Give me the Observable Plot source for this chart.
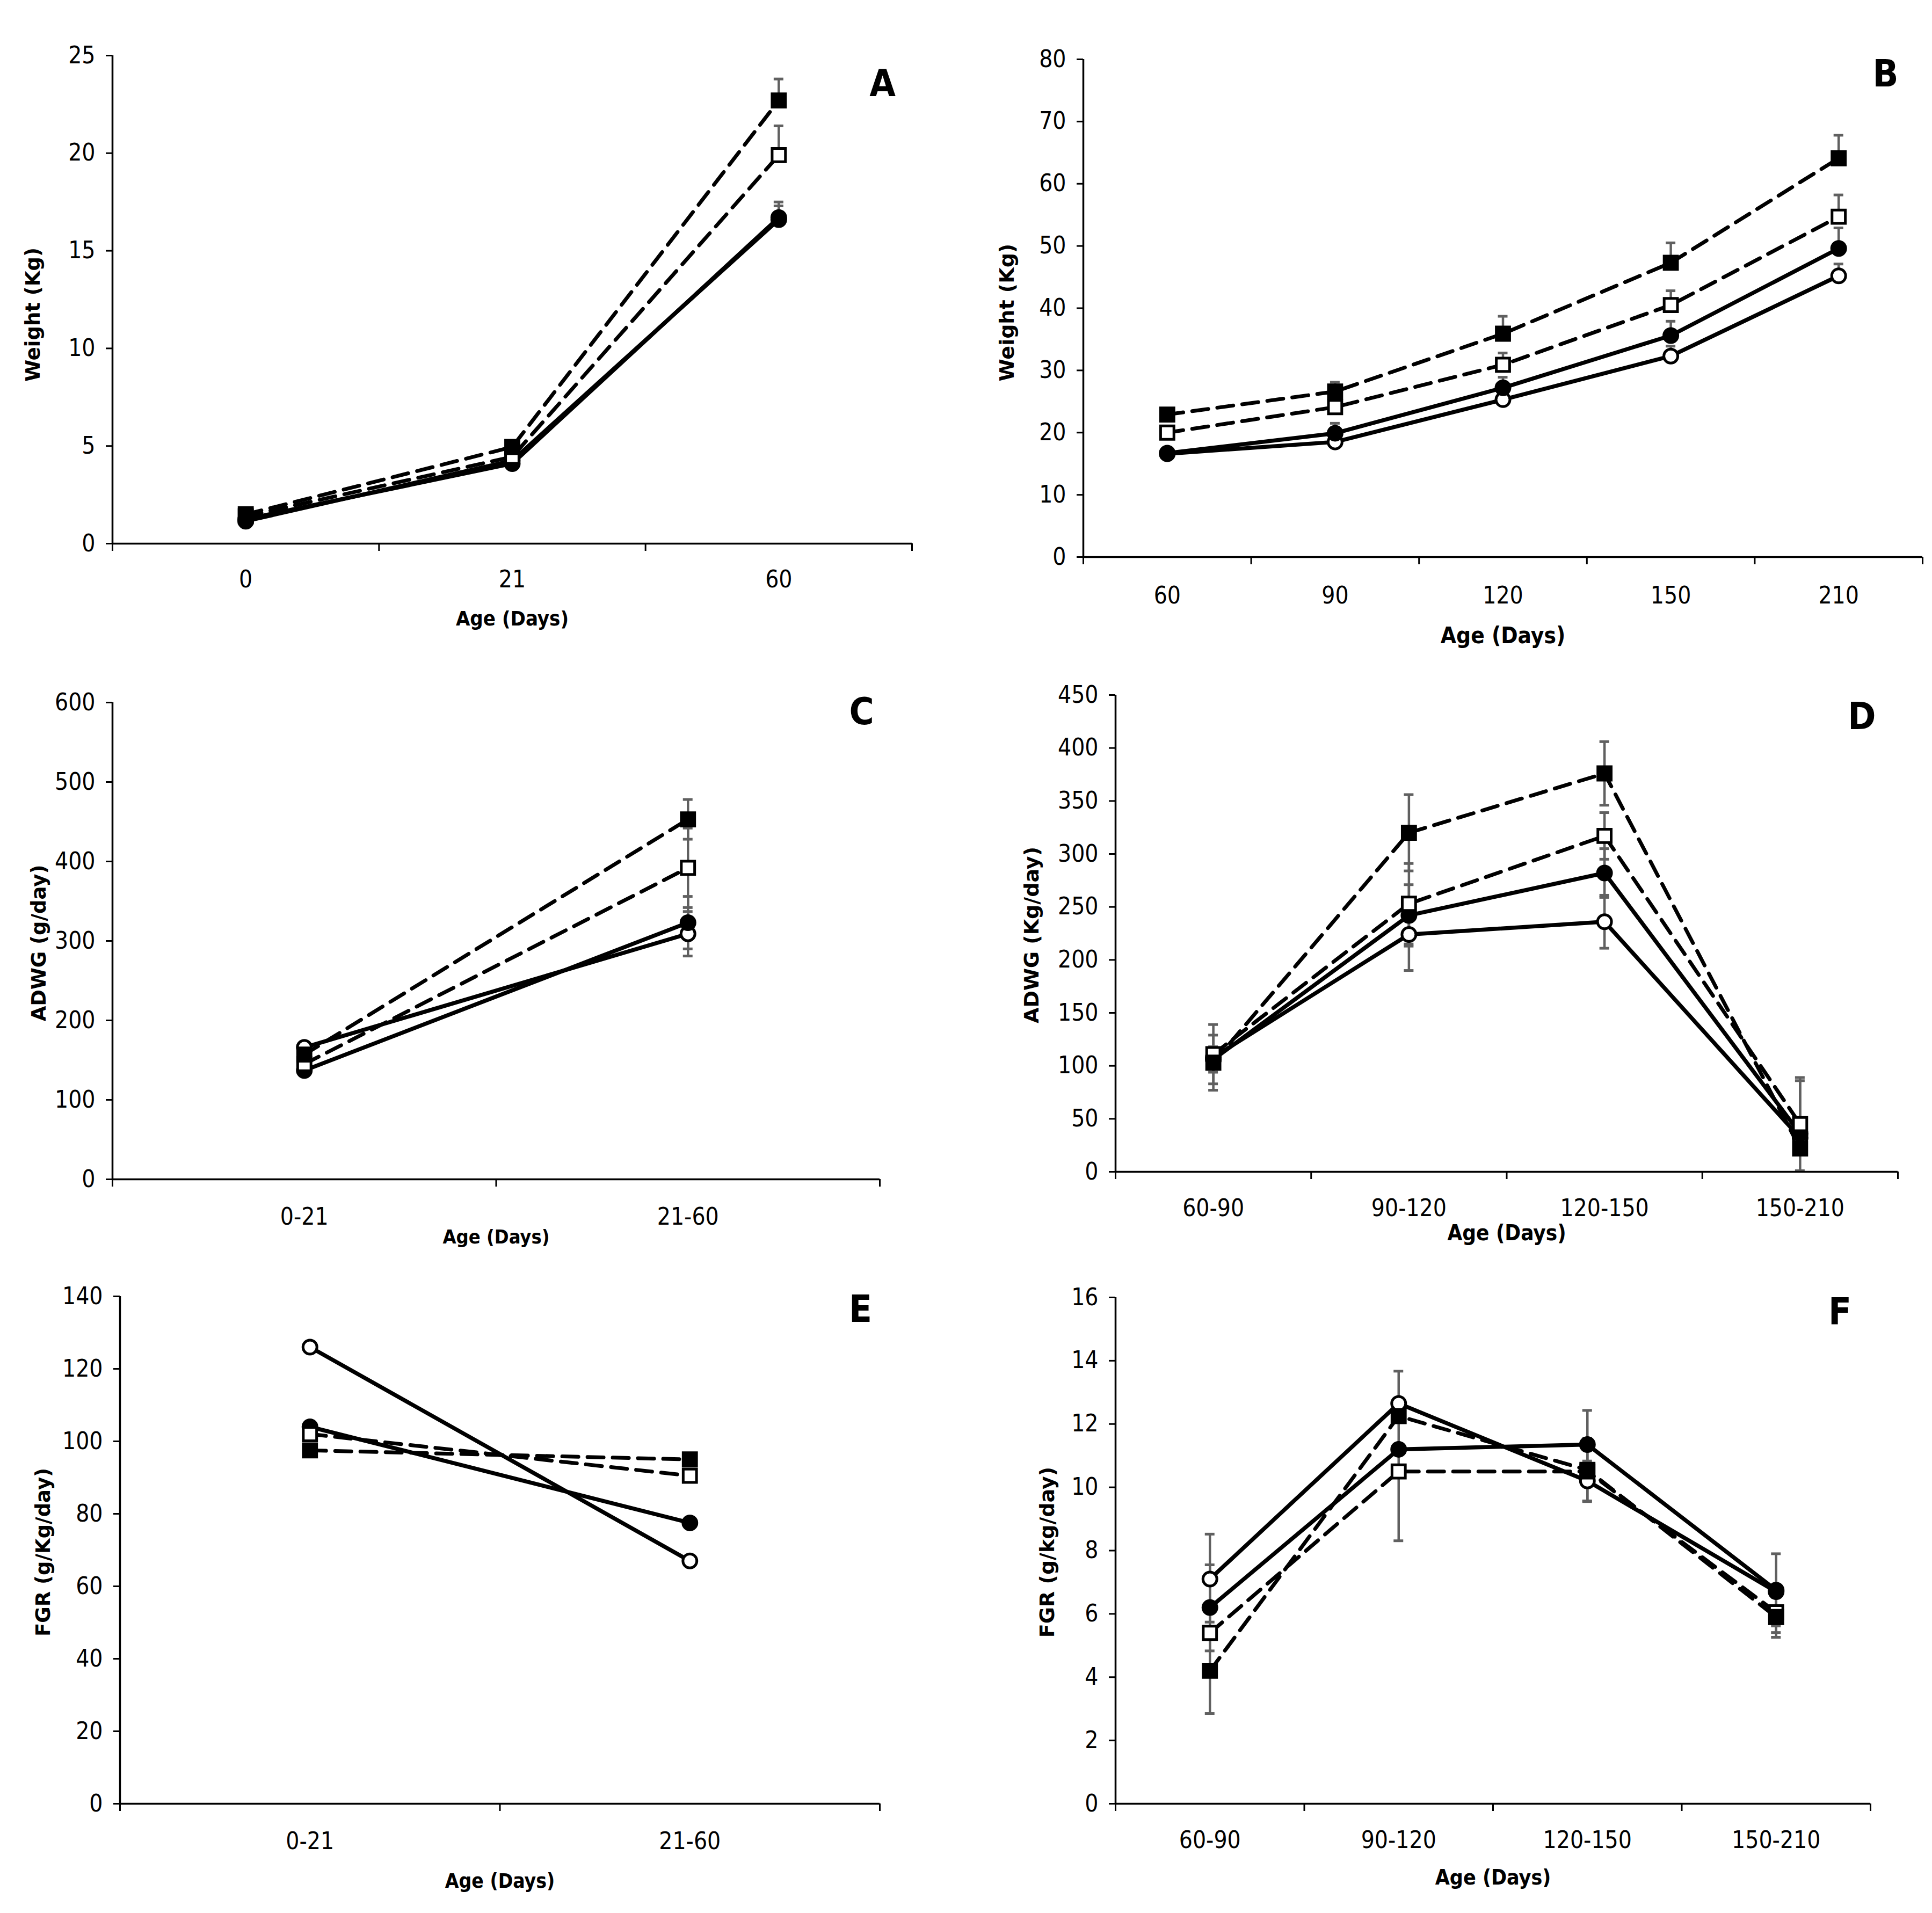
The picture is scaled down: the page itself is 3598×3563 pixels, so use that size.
<!DOCTYPE html>
<html><head><meta charset="utf-8">
<script src="https://cdn.jsdelivr.net/npm/d3@7"></script>
<script src="https://cdn.jsdelivr.net/npm/@observablehq/plot@0.6"></script>
<style>
html,body{margin:0;padding:0;background:#fff;}
#root{position:relative;width:3598px;height:3563px;background:#fff;overflow:hidden;}
.panel{position:absolute;}
.panel svg{overflow:visible;display:block;}
</style></head><body><div id="root"></div>
<script>
// Series (marker type): filled square / open square (dashed), filled circle / open circle (solid)
const seriesOrder = ["openCircle", "filledCircle", "openSquare", "filledSquare"];

// ---- Panel A: Weight (Kg), ages 0-60 d
const catsA = ["0", "21", "60"];
const A_filledSquare = [1.5, 4.95, 22.7];
const A_openSquare   = [1.4, 4.45, 19.9];
const A_filledCircle = [1.25, 4.1, 16.7];
const A_openCircle   = [1.15, 4.25, 16.6];
const A_hi_filledSquare = [null, null, 23.8];
const A_hi_openSquare   = [null, null, 21.4];
const A_hi_filledCircle = [null, null, 17.5];
const A_hi_openCircle   = [null, null, 17.3];
const ticksA = [0, 5, 10, 15, 20, 25];

// ---- Panel B: Weight (Kg), ages 60-210 d
const catsB = ["60", "90", "120", "150", "210"];
const B_filledSquare = [22.9, 26.6, 35.9, 47.3, 64.1];
const B_openSquare   = [20.0, 24.1, 30.9, 40.5, 54.7];
const B_filledCircle = [16.7, 19.9, 27.2, 35.6, 49.6];
const B_openCircle   = [16.6, 18.5, 25.3, 32.3, 45.2];
const B_hi_filledSquare = [null, 28.1, 38.7, 50.5, 67.8];
const B_hi_openSquare   = [null, null, 32.8, 42.8, 58.2];
const B_hi_filledCircle = [null, 21.5, 28.9, 37.9, 52.9];
const B_hi_openCircle   = [null, null, null, 33.9, 47.1];
const ticksB = [0, 10, 20, 30, 40, 50, 60, 70, 80];

// ---- Panel C: ADWG (g/day)
const catsC = ["0-21", "21-60"];
const C_filledSquare = [157, 453];
const C_openSquare   = [145, 392];
const C_filledCircle = [137, 323];
const C_openCircle   = [166, 309];
const C_lo_filledSquare = [null, 428], C_hi_filledSquare = [null, 478];
const C_lo_openSquare   = [null, 342], C_hi_openSquare   = [null, 442];
const C_lo_filledCircle = [null, 290], C_hi_filledCircle = [null, 356];
const C_lo_openCircle   = [null, 281], C_hi_openCircle   = [null, 337];
const ticksC = [0, 100, 200, 300, 400, 500, 600];

// ---- Panel D: ADWG (Kg/day)
const catsD = ["60-90", "90-120", "120-150", "150-210"];
const D_filledSquare = [103, 320, 376, 22];
const D_openSquare   = [111, 253, 317, 45];
const D_filledCircle = [106, 242, 282, 36];
const D_openCircle   = [108, 224, 236, 32];
const D_lo_filledSquare = [77, 284, 346, null], D_hi_filledSquare = [129, 356, 406, null];
const D_lo_openSquare   = [83, 215, 295, 1],    D_hi_openSquare   = [139, 291, 339, 89];
const D_lo_filledCircle = [94, 213, 259, null], D_hi_filledCircle = [118, 271, 305, 86];
const D_lo_openCircle   = [null, 190, 211, null], D_hi_openCircle = [null, 258, 261, null];
const ticksD = [0, 50, 100, 150, 200, 250, 300, 350, 400, 450];

// ---- Panel E: FGR (g/Kg/day)
const catsE = ["0-21", "21-60"];
const E_filledSquare = [97.5, 95];
const E_openSquare   = [102, 90.5];
const E_filledCircle = [104, 77.5];
const E_openCircle   = [126, 67];
const ticksE = [0, 20, 40, 60, 80, 100, 120, 140];

// ---- Panel F: FGR (g/kg/day)
const catsF = ["60-90", "90-120", "120-150", "150-210"];
const F_filledSquare = [4.2, 12.25, 10.55, 5.9];
const F_openSquare   = [5.4, 10.5, 10.5, 6.05];
const F_filledCircle = [6.2, 11.2, 11.35, 6.75];
const F_openCircle   = [7.1, 12.65, 10.2, 6.7];
const F_lo_filledSquare = [2.85, null, 9.55, 5.26], F_hi_filledSquare = [5.59, null, 11.55, 6.52];
const F_lo_openSquare   = [null, 8.31, null, 5.41], F_hi_openSquare   = [null, 12.69, null, 6.69];
const F_lo_filledCircle = [4.83, null, 10.31, 5.62], F_hi_filledCircle = [7.55, null, 12.43, 7.9];
const F_lo_openCircle   = [5.74, null, 9.57, null], F_hi_openCircle   = [8.52, 13.67, 10.83, null];
const ticksF = [0, 2, 4, 6, 8, 10, 12, 14, 16];

const xTitle = "Age (Days)";

// ---------- styling
const NARROW = "'Liberation Sans Narrow','DejaVu Sans Condensed','Arial Narrow',sans-serif";
const WIDE = "'DejaVu Sans',Verdana,sans-serif";
const INK = "#000", ERR = "#606060";
const DASHED = new Set(["filledSquare", "openSquare"]);
const SQUARES = new Set(["filledSquare", "openSquare"]);
const FILLED = new Set(["filledSquare", "filledCircle"]);

const panels = [
  {cats: catsA, vals: {filledSquare: A_filledSquare, openSquare: A_openSquare, filledCircle: A_filledCircle, openCircle: A_openCircle},
   lo: {}, hi: {filledSquare: A_hi_filledSquare, openSquare: A_hi_openSquare, filledCircle: A_hi_filledCircle, openCircle: A_hi_openCircle},
   ticks: ticksA, yLabel: "Weight (Kg)", letter: "A",
   left: 0, top: 0, w: 1799, h: 1240, mL: 209, mT: 103, mR: 101, mB: 228,
   tickPad: 50, titleDy: 140, titleSize: 38, yLabelDx: 147, yLabelDy: 28, yLabelSize: 37, letterDx: -55, letterDy: 53},
  {cats: catsB, vals: {filledSquare: B_filledSquare, openSquare: B_openSquare, filledCircle: B_filledCircle, openCircle: B_openCircle},
   lo: {}, hi: {filledSquare: B_hi_filledSquare, openSquare: B_hi_openSquare, filledCircle: B_hi_filledCircle, openCircle: B_hi_openCircle},
   ticks: ticksB, yLabel: "Weight (Kg)", letter: "B",
   left: 1799, top: 0, w: 1799, h: 1240, mL: 218, mT: 110, mR: 18, mB: 203,
   tickPad: 55, titleDy: 147, titleSize: 42, yLabelDx: 142, yLabelDy: 8, yLabelSize: 38, letterDx: -69, letterDy: 28},
  {cats: catsC, vals: {filledSquare: C_filledSquare, openSquare: C_openSquare, filledCircle: C_filledCircle, openCircle: C_openCircle},
   lo: {filledSquare: C_lo_filledSquare, openSquare: C_lo_openSquare, filledCircle: C_lo_filledCircle, openCircle: C_lo_openCircle},
   hi: {filledSquare: C_hi_filledSquare, openSquare: C_hi_openSquare, filledCircle: C_hi_filledCircle, openCircle: C_hi_openCircle},
   ticks: ticksC, yLabel: "ADWG (g/day)", letter: "C",
   left: 0, top: 1240, w: 1799, h: 1130, mL: 209, mT: 68, mR: 161, mB: 174,
   tickPad: 53, titleDy: 108, titleSize: 36, yLabelDx: 136, yLabelDy: 4, yLabelSize: 37, letterDx: -34, letterDy: 18},
  {cats: catsD, vals: {filledSquare: D_filledSquare, openSquare: D_openSquare, filledCircle: D_filledCircle, openCircle: D_openCircle},
   lo: {filledSquare: D_lo_filledSquare, openSquare: D_lo_openSquare, filledCircle: D_lo_filledCircle, openCircle: D_lo_openCircle},
   hi: {filledSquare: D_hi_filledSquare, openSquare: D_hi_openSquare, filledCircle: D_hi_filledCircle, openCircle: D_hi_openCircle},
   ticks: ticksD, yLabel: "ADWG (Kg/day)", letter: "D",
   left: 1799, top: 1240, w: 1799, h: 1130, mL: 278, mT: 54, mR: 64, mB: 188,
   tickPad: 51, titleDy: 115, titleSize: 40, yLabelDx: 156, yLabelDy: 3, yLabelSize: 38, letterDx: -67, letterDy: 41},
  {cats: catsE, vals: {filledSquare: E_filledSquare, openSquare: E_openSquare, filledCircle: E_filledCircle, openCircle: E_openCircle},
   lo: {}, hi: {},
   ticks: ticksE, yLabel: "FGR (g/Kg/day)", letter: "E",
   left: 0, top: 2370, w: 1799, h: 1193, mL: 223, mT: 44, mR: 161, mB: 204,
   tickPad: 53, titleDy: 145, titleSize: 37, yLabelDx: 142, yLabelDy: 4, yLabelSize: 37, letterDx: -36, letterDy: 25},
  {cats: catsF, vals: {filledSquare: F_filledSquare, openSquare: F_openSquare, filledCircle: F_filledCircle, openCircle: F_openCircle},
   lo: {filledSquare: F_lo_filledSquare, openSquare: F_lo_openSquare, filledCircle: F_lo_filledCircle, openCircle: F_lo_openCircle},
   hi: {filledSquare: F_hi_filledSquare, openSquare: F_hi_openSquare, filledCircle: F_hi_filledCircle, openCircle: F_hi_openCircle},
   ticks: ticksF, yLabel: "FGR (g/kg/day)", letter: "F",
   left: 1799, top: 2370, w: 1799, h: 1193, mL: 278, mT: 46, mR: 115, mB: 204,
   tickPad: 51, titleDy: 138, titleSize: 39, yLabelDx: 127, yLabelDy: 3, yLabelSize: 38, letterDx: -57, letterDy: 28}
];

function draw(p) {
  const n = p.cats.length;
  const rows = [];
  for (const s of seriesOrder) {
    p.vals[s].forEach((v, i) => rows.push({
      s, i, x: i + 0.5, y: v,
      lo: (p.lo[s] && p.lo[s][i] != null) ? p.lo[s][i] : null,
      hi: (p.hi[s] && p.hi[s][i] != null) ? p.hi[s][i] : null
    }));
  }
  const errRows = rows.filter(d => d.lo != null || d.hi != null)
    .map(d => ({x: d.x, y1: d.lo != null ? d.lo : d.y, y2: d.hi != null ? d.hi : d.y}));
  const caps = [];
  rows.forEach(d => { if (d.lo != null) caps.push({x: d.x, y: d.lo}); if (d.hi != null) caps.push({x: d.x, y: d.hi}); });
  const centers = d3.range(n).map(i => i + 0.5);
  const bounds = d3.range(n + 1);
  const yMax = d3.max(p.ticks);

  const marks = [
    Plot.ruleX(errRows, {x: "x", y1: "y1", y2: "y2", stroke: ERR, strokeWidth: 4.5}),
    Plot.ruleY(caps, {x1: "x", x2: "x", y: "y", insetLeft: -9, insetRight: -9, stroke: ERR, strokeWidth: 5})
  ];
  for (const s of seriesOrder) {
    const sr = rows.filter(d => d.s === s);
    marks.push(Plot.line(sr, {x: "x", y: "y", stroke: INK, strokeWidth: DASHED.has(s) ? 7 : 7.5,
      strokeDasharray: DASHED.has(s) ? "30,17" : null, strokeLinejoin: "round"}));
  }
  for (const s of seriesOrder) {
    const sr = rows.filter(d => d.s === s);
    marks.push(Plot.dot(sr, {x: "x", y: "y", symbol: SQUARES.has(s) ? "square" : "circle",
      r: SQUARES.has(s) ? 14 : 13, fill: FILLED.has(s) ? INK : "#fff", stroke: INK, strokeWidth: 5}));
  }
  marks.push(
    Plot.ruleY([0], {stroke: INK, strokeWidth: 3.5}),
    Plot.ruleX([0], {stroke: INK, strokeWidth: 3.5}),
    Plot.axisY(p.ticks, {tickSize: 12, tickPadding: 20, fontSize: 44, stroke: INK, strokeWidth: 3, fill: INK,
      label: null, tickFormat: d => String(d)}),
    Plot.axisX(bounds, {tickSize: 14, tickFormat: () => "", stroke: INK, strokeWidth: 3, label: null}),
    Plot.axisX(centers, {tickSize: 0, tickPadding: p.tickPad, tickFormat: d => p.cats[Math.floor(d)], fontSize: 44, fill: INK, label: null}),
    Plot.text([xTitle], {frameAnchor: "bottom", dy: p.titleDy, textAnchor: "middle", lineAnchor: "middle",
      fontWeight: "bold", fontSize: p.titleSize, fill: INK}),
    Plot.text([p.yLabel], {frameAnchor: "left", dx: -p.yLabelDx, dy: p.yLabelDy, rotate: -90, textAnchor: "middle",
      lineAnchor: "middle", fontFamily: WIDE, fontWeight: "bold", fontSize: p.yLabelSize, fill: INK}),
    Plot.text([p.letter], {frameAnchor: "top-right", dx: p.letterDx, dy: p.letterDy, textAnchor: "middle",
      lineAnchor: "middle", fontWeight: "bold", fontSize: 70, fill: INK})
  );

  const chart = Plot.plot({
    width: p.w, height: p.h,
    marginLeft: p.mL, marginTop: p.mT, marginRight: p.mR, marginBottom: p.mB,
    x: {type: "linear", domain: [0, n], axis: null},
    y: {type: "linear", domain: [0, yMax], axis: null},
    style: {fontFamily: NARROW, background: "transparent", color: INK, overflow: "visible"},
    marks
  });
  const holder = document.createElement("div");
  holder.className = "panel";
  holder.style.left = p.left + "px";
  holder.style.top = p.top + "px";
  holder.appendChild(chart);
  document.getElementById("root").appendChild(holder);
}

panels.forEach(draw);
</script>
</body></html>
